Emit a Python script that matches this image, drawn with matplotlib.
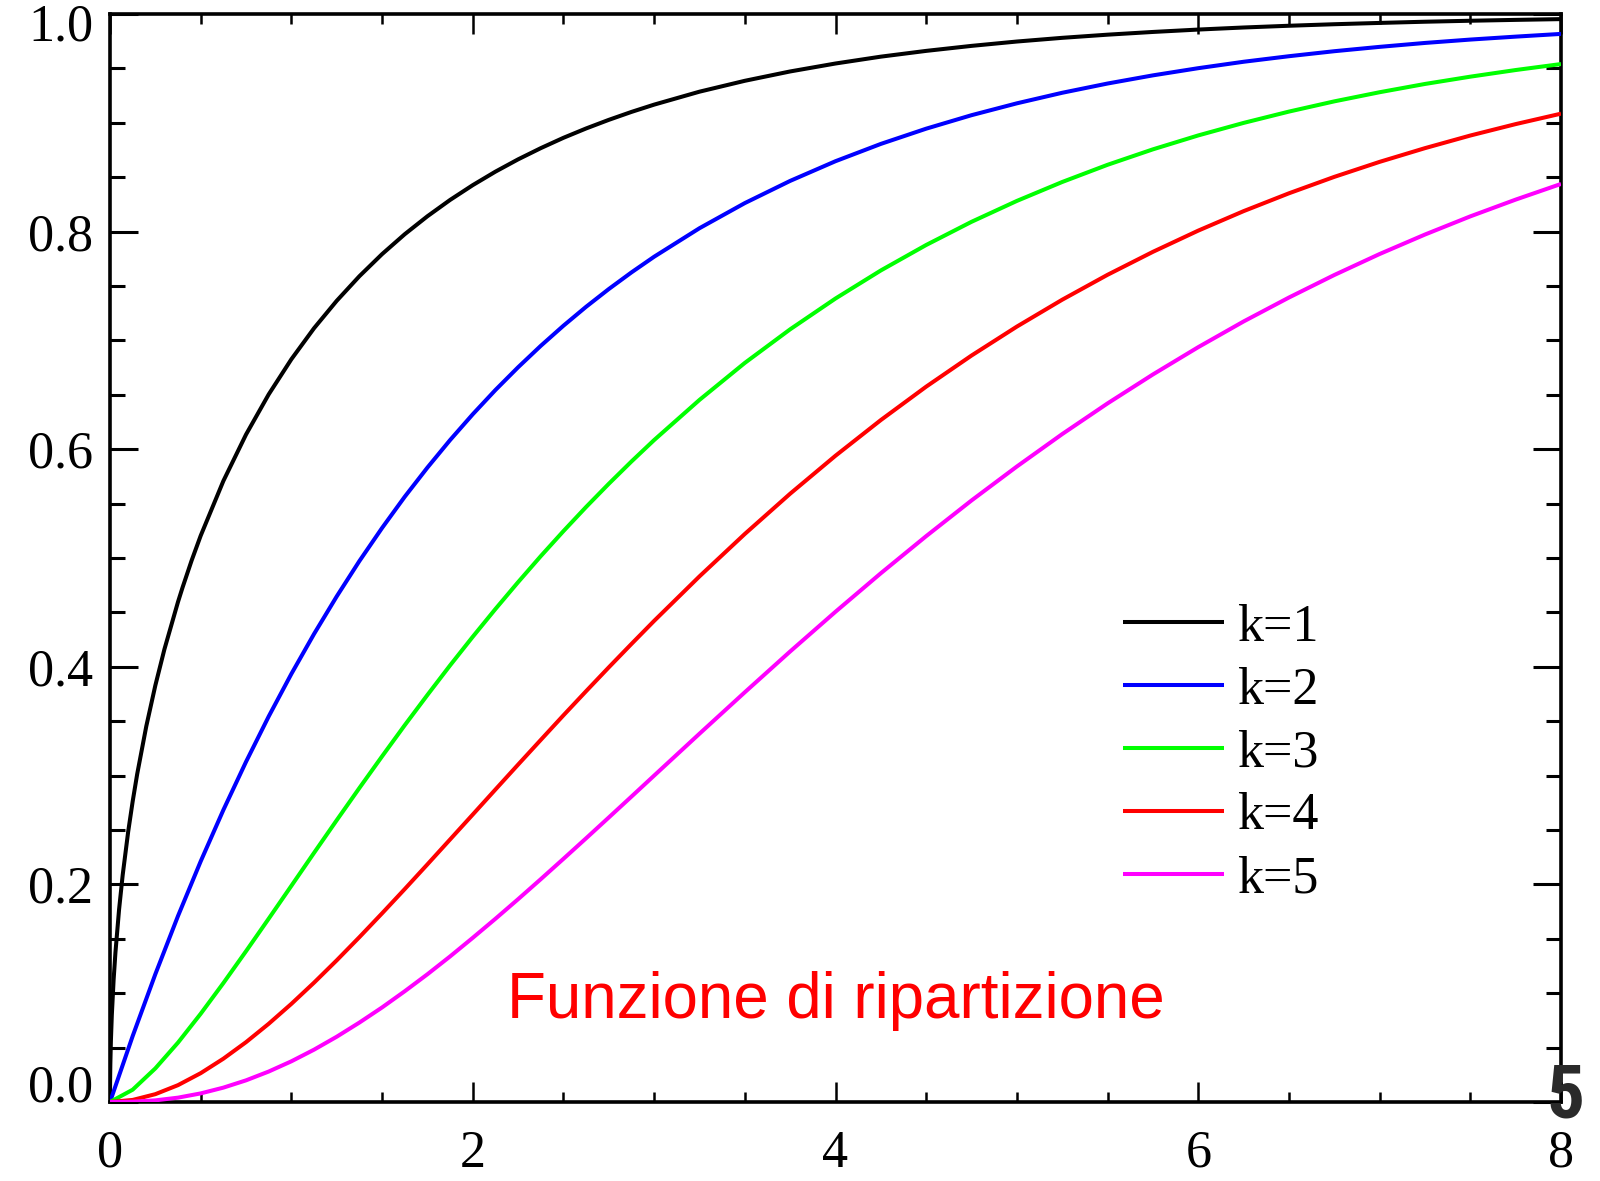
import matplotlib
matplotlib.use("Agg")
import matplotlib.pyplot as plt
import matplotlib.transforms as mtransforms
from matplotlib.ticker import MultipleLocator
from matplotlib import font_manager

# ---- data (chi-square CDF curves) ----
x_k1 = [0, 0.0002, 0.0005, 0.001, 0.002, 0.005, 0.01, 0.02, 0.03, 0.05, 0.07,
        0.1, 0.125, 0.15, 0.2, 0.25, 0.3, 0.375, 0.4, 0.45, 0.5, 0.625, 0.75,
        0.875, 1.0, 1.125, 1.25, 1.375, 1.5, 1.625, 1.75, 1.875, 2.0, 2.125,
        2.25, 2.375, 2.5, 2.625, 2.75, 2.875, 3.0, 3.25, 3.5, 3.75, 4.0, 4.25,
        4.5, 4.75, 5.0, 5.25, 5.5, 5.75, 6.0, 6.25, 6.5, 6.75, 7.0, 7.25, 7.5,
        7.75, 8.0]
y_k1 = [0.0, 0.0113, 0.0178, 0.0252, 0.0357, 0.0564, 0.0797, 0.1125, 0.1375,
        0.1769, 0.2087, 0.2482, 0.2763, 0.3015, 0.3453, 0.3829, 0.4161, 0.4597,
        0.4729, 0.4977, 0.5205, 0.5708, 0.6135, 0.6504, 0.6827, 0.7112, 0.7364,
        0.7590, 0.7793, 0.7976, 0.8141, 0.8291, 0.8427, 0.8551, 0.8664, 0.8767,
        0.8862, 0.8948, 0.9027, 0.9100, 0.9167, 0.9286, 0.9386, 0.9472, 0.9545,
        0.9608, 0.9661, 0.9707, 0.9747, 0.9781, 0.9810, 0.9835, 0.9857, 0.9876,
        0.9892, 0.9906, 0.9918, 0.9929, 0.9938, 0.9946, 0.9953]

x_grid = [0, 0.125, 0.25, 0.375, 0.5, 0.625, 0.75, 0.875, 1.0, 1.125, 1.25,
          1.375, 1.5, 1.625, 1.75, 1.875, 2.0, 2.125, 2.25, 2.375, 2.5, 2.625,
          2.75, 2.875, 3.0, 3.25, 3.5, 3.75, 4.0, 4.25, 4.5, 4.75, 5.0, 5.25,
          5.5, 5.75, 6.0, 6.25, 6.5, 6.75, 7.0, 7.25, 7.5, 7.75, 8.0]
y_k2 = [0.0, 0.0606, 0.1175, 0.1710, 0.2212, 0.2684, 0.3127, 0.3544, 0.3935,
        0.4302, 0.4647, 0.4972, 0.5276, 0.5563, 0.5831, 0.6084, 0.6321, 0.6544,
        0.6753, 0.6950, 0.7135, 0.7309, 0.7472, 0.7625, 0.7769, 0.8031, 0.8262,
        0.8466, 0.8647, 0.8806, 0.8946, 0.9070, 0.9179, 0.9276, 0.9361, 0.9436,
        0.9502, 0.9561, 0.9612, 0.9658, 0.9698, 0.9734, 0.9765, 0.9792, 0.9817]
y_k3 = [0.0, 0.0113, 0.0309, 0.0546, 0.0811, 0.1093, 0.1386, 0.1685, 0.1987,
        0.2290, 0.2590, 0.2886, 0.3177, 0.3463, 0.3741, 0.4013, 0.4276, 0.4531,
        0.4778, 0.5017, 0.5247, 0.5469, 0.5682, 0.5887, 0.6084, 0.6453, 0.6793,
        0.7102, 0.7385, 0.7643, 0.7877, 0.8090, 0.8282, 0.8456, 0.8614, 0.8756,
        0.8884, 0.8999, 0.9103, 0.9197, 0.9281, 0.9357, 0.9424, 0.9485, 0.9540]
y_k4 = [0.0, 0.0019, 0.0072, 0.0155, 0.0265, 0.0398, 0.0550, 0.0719, 0.0902,
        0.1097, 0.1302, 0.1515, 0.1734, 0.1957, 0.2184, 0.2413, 0.2642, 0.2872,
        0.3101, 0.3328, 0.3554, 0.3776, 0.3995, 0.4210, 0.4422, 0.4831, 0.5221,
        0.5591, 0.5940, 0.6268, 0.6575, 0.6861, 0.7127, 0.7374, 0.7603, 0.7814,
        0.8009, 0.8188, 0.8352, 0.8503, 0.8641, 0.8767, 0.8883, 0.8988, 0.9084]
y_k5 = [0.0, 0.0003, 0.0015, 0.0040, 0.0079, 0.0132, 0.0199, 0.0280, 0.0374,
        0.0481, 0.0600, 0.0730, 0.0869, 0.1018, 0.1174, 0.1338, 0.1509, 0.1684,
        0.1864, 0.2048, 0.2235, 0.2424, 0.2615, 0.2807, 0.3000, 0.3385, 0.3766,
        0.4141, 0.4506, 0.4860, 0.5201, 0.5529, 0.5841, 0.6139, 0.6421, 0.6687,
        0.6938, 0.7174, 0.7394, 0.7601, 0.7794, 0.7973, 0.8140, 0.8294, 0.8438]

labels = ["k=1", "k=2", "k=3", "k=4", "k=5"]
colors = ["#000000", "#0000ff", "#00ff00", "#ff0000", "#ff00ff"]
x_ticks = [0, 2, 4, 6, 8]
y_ticks = [0.0, 0.2, 0.4, 0.6, 0.8, 1.0]
annotation = "Funzione di ripartizione"
page_number = "5"

serif = ["Liberation Serif", "DejaVu Serif"]

# pick a narrow bold face for the page number if one is installed
installed = {f.name for f in font_manager.fontManager.ttflist}
narrow = [n for n in ["Roboto Condensed", "Liberation Sans Narrow", "Open Sans Condensed",
                      "DejaVu Sans Condensed"] if n in installed]
num_family = narrow[:1] + ["DejaVu Sans"]

fig = plt.figure(figsize=(16, 11.81), dpi=100)
ax = fig.add_axes([110 / 1600, 79 / 1181, 1451 / 1600, 1088 / 1181])

series = [(x_k1, y_k1), (x_grid, y_k2), (x_grid, y_k3), (x_grid, y_k4), (x_grid, y_k5)]
for (xs, ys), lab, col in zip(series, labels, colors):
    ax.plot(xs, ys, color=col, lw=2.9, label=lab, solid_capstyle="butt",
            solid_joinstyle="round", zorder=3)

ax.set_xlim(0, 8)
ax.set_ylim(0, 1.0)
ax.set_xticks(x_ticks)
ax.set_yticks(y_ticks)
ax.set_xticklabels([str(t) for t in x_ticks], fontfamily=serif, fontsize=37.5)
ax.set_yticklabels([f"{t:.1f}" for t in y_ticks], fontfamily=serif, fontsize=37.5)
ax.xaxis.set_minor_locator(MultipleLocator(0.5))
ax.yaxis.set_minor_locator(MultipleLocator(0.05))

ax.tick_params(axis="both", which="both", direction="in", top=True, right=True, color="black")
ax.tick_params(axis="x", which="major", length=14.5, width=1.8, pad=20)
ax.tick_params(axis="x", which="minor", length=7.2, width=1.8)
ax.tick_params(axis="y", which="major", length=20, width=2.2, pad=12)
ax.tick_params(axis="y", which="minor", length=10.8, width=2.2)
for sp in ax.spines.values():
    sp.set_linewidth(2.6)
    sp.set_zorder(2)

leg = ax.legend(loc="upper left", bbox_to_anchor=(0.698, 0.458), frameon=False,
                prop={"family": serif, "size": 37.5}, handlelength=1.95,
                handletextpad=0.25, labelspacing=0.285, borderpad=0, borderaxespad=0)
for h in leg.get_lines():
    h.set_linewidth(2.9)

ax.text(4.0, 0.077, annotation, color="#ff0000", fontsize=45.8,
        fontfamily=["Liberation Sans", "DejaVu Sans"], ha="center", va="baseline")

fig.text(1566 / 1600, 1 - 1098 / 1181, page_number, fontsize=54, fontweight="bold",
         fontfamily=num_family, color="#2a2a2a",
         ha="center", va="center", zorder=10)

ylabels = ax.get_yticklabels()
ylabels[0].set_va("baseline")
top_lab = ylabels[-1]
top_lab.set_va("center")
top_lab.set_transform(top_lab.get_transform() +
                      mtransforms.ScaledTranslation(0, -13.5 / 100, fig.dpi_scale_trans))

fig.savefig("out.png", dpi=100, facecolor="white")
